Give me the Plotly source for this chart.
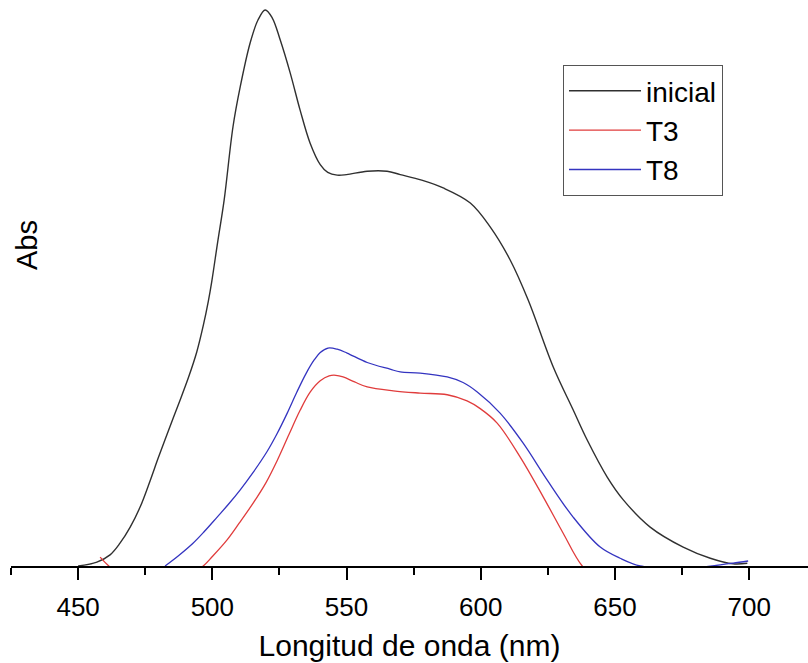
import plotly.graph_objects as go

# Wavelength (nm) and absorbance (arbitrary units)
inicial_nm = [450, 457.0, 461.9, 465.6, 469.4, 473.1, 476.8, 479.9, 483.6, 487.4, 491.1,
              494.2, 496.7, 498.5, 499.8, 502.0, 504.4, 507.7, 510.4, 514.1, 517.0, 519.7,
              522.3, 525.3, 529.0, 532.7, 536.4, 540.2, 543.0, 546.5, 550.0, 557.7, 565.1,
              570.0, 578.0, 586.0, 596.1, 603.5, 611.0, 617.7, 627.0, 634.4, 639.6, 647.1,
              653.1, 663.1, 675.4, 685.5, 694.0, 699.3]
inicial_abs = [0.000, 0.007, 0.020, 0.041, 0.070, 0.106, 0.153, 0.195, 0.243, 0.291, 0.339,
               0.385, 0.434, 0.476, 0.512, 0.583, 0.658, 0.790, 0.862, 0.941, 0.982, 1.000,
               0.986, 0.946, 0.887, 0.820, 0.761, 0.722, 0.708, 0.703, 0.704, 0.710, 0.710,
               0.704, 0.694, 0.680, 0.653, 0.610, 0.550, 0.478, 0.358, 0.281, 0.227, 0.160,
               0.119, 0.070, 0.034, 0.014, 0.004, 0.005]

t3_nm = [458.2, 461.9, 470, 480, 490, 496.6, 500.0, 505.5, 510.0, 515.2, 520.0, 524.1,
         528.5, 532.7, 536.5, 540.2, 543.5, 546.0, 548.7, 553.0, 557.7, 567.4, 577.4,
         587.5, 594.9, 599.8, 606.1, 614.7, 623.3, 630.7, 637.8, 645, 660, 680, 700]
t3_abs = [0.016, -0.002, -0.030, -0.040, -0.020, 0.000, 0.017, 0.047, 0.077, 0.113, 0.150,
          0.189, 0.236, 0.280, 0.313, 0.333, 0.342, 0.343, 0.340, 0.331, 0.322, 0.315,
          0.311, 0.308, 0.297, 0.283, 0.257, 0.196, 0.124, 0.059, 0.000, -0.030, -0.050,
          -0.040, -0.030]

t8_nm = [482.4, 487.5, 492.8, 497.0, 501.8, 506.0, 510.4, 515.0, 520.4, 524.0, 527.9,
         531.5, 535.0, 538.0, 540.2, 543.1, 546.5, 550.2, 557.7, 566.2, 570.0, 577.4,
         587.5, 593.4, 598.7, 607.2, 615.8, 624.7, 634.4, 644.5, 651.9, 659.4, 670, 680,
         689.2, 694.0, 699.6]
t8_abs = [0.000, 0.019, 0.041, 0.062, 0.088, 0.111, 0.137, 0.167, 0.206, 0.237, 0.275,
          0.313, 0.347, 0.371, 0.384, 0.392, 0.390, 0.383, 0.366, 0.354, 0.349, 0.347,
          0.340, 0.330, 0.313, 0.275, 0.221, 0.155, 0.088, 0.034, 0.014, 0.000, -0.003,
          -0.003, 0.002, 0.005, 0.009]

tick_vals = [450, 500, 550, 600, 650, 700]
tick_text = ["450", "500", "550", "600", "650", "700"]
minor_vals = [425, 475, 525, 575, 625, 675]

FONT = "Liberation Sans, Arial, sans-serif"
LINE = dict(shape="spline", smoothing=1.0)

fig = go.Figure()
fig.add_trace(go.Scatter(x=inicial_nm, y=inicial_abs, name="inicial", mode="lines",
                         line=dict(color="#303030", width=1.4, **LINE)))
fig.add_trace(go.Scatter(x=t3_nm, y=t3_abs, name="T3", mode="lines",
                         line=dict(color="#e03c3c", width=1.3, **LINE)))
fig.add_trace(go.Scatter(x=t8_nm, y=t8_abs, name="T8", mode="lines",
                         line=dict(color="#3434c0", width=1.3, **LINE)))

fig.update_layout(
    width=808, height=663,
    margin=dict(l=11, r=0, t=0, b=97),
    paper_bgcolor="white", plot_bgcolor="white",
    font=dict(family=FONT, color="black"),
    showlegend=True,
    legend=dict(x=(563 - 11) / 797, y=1 - 65 / 566, xanchor="left", yanchor="top",
                bgcolor="white", bordercolor="#555555", borderwidth=1,
                font=dict(size=28, family=FONT, color="black"),
                tracegroupgap=0, itemwidth=72),
    xaxis=dict(range=[425, 721.9], showgrid=False, zeroline=False,
               showline=True, linecolor="black", linewidth=2,
               tickmode="array", tickvals=tick_vals, ticktext=tick_text,
               ticks="outside", ticklen=12, tickwidth=2, tickcolor="black",
               ticklabelstandoff=5,
               minor=dict(tickmode="array", tickvals=minor_vals,
                          ticks="outside", ticklen=7, tickwidth=2, tickcolor="black"),
               tickfont=dict(size=26, family=FONT, color="black"),
               title=dict(text="Longitud de onda (nm)", standoff=14,
                          font=dict(size=30, family=FONT, color="black"))),
    yaxis=dict(range=[0, 1.018], visible=False),
    annotations=[dict(text="Abs", x=(27 - 11) / 797, y=1 - 245 / 566,
                      xref="paper", yref="paper", xanchor="center", yanchor="middle",
                      showarrow=False, textangle=-90,
                      font=dict(size=29, family=FONT, color="black"))],
)

fig.write_html("out.html", config={"displayModeBar": False},
               post_script="document.body.style.margin='0';document.body.style.padding='0';")
